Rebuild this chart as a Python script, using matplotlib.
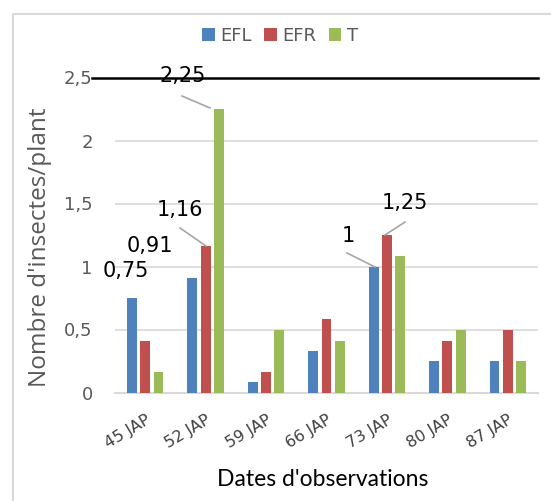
import matplotlib.pyplot as plt
import numpy as np
from matplotlib.patches import Rectangle

# Données
dates = ["45 JAP", "52 JAP", "59 JAP", "66 JAP", "73 JAP", "80 JAP", "87 JAP"]
efl = [0.75, 0.91, 0.08, 0.33, 1.00, 0.25, 0.25]
efr = [0.41, 1.16, 0.16, 0.58, 1.25, 0.41, 0.50]
t = [0.16, 2.25, 0.50, 0.41, 1.08, 0.50, 0.25]

plt.rcParams['font.family'] = ['DejaVu Sans']

W, H = 551, 501
fig = plt.figure(figsize=(W / 100, H / 100), dpi=100)
ax = fig.add_axes([115 / W, 1 - 392.5 / H, (538 - 115) / W, (392.5 - 77.5) / H])

x = np.arange(len(dates))
bw = 0.165
step = 0.22
ax.bar(x - step, efl, bw, color='#4F81BD', label='EFL', zorder=3)
ax.bar(x, efr, bw, color='#C0504D', label='EFR', zorder=3)
ax.bar(x + step, t, bw, color='#9BBB59', label='T', zorder=3)

ax.set_xlim(-0.5, len(dates) - 0.5)
ax.set_ylim(0, 2.5)
ax.set_yticks([0, 0.5, 1, 1.5, 2, 2.5])
ax.set_yticklabels(['0', '0,5', '1', '1,5', '2', '2,5'], fontsize=13, color='#595959')
ax.set_xticks(x)
ax.set_xticklabels(dates, rotation=31, ha='right', va='top', rotation_mode='anchor',
                   fontsize=11.5, color='#404040')
ax.tick_params(length=0)
ax.tick_params(axis='y', pad=16)
ax.tick_params(axis='x', pad=14)
ax.grid(axis='y', color='#d9d9d9', lw=1.2, zorder=0)
for s in ['top', 'right', 'left']:
    ax.spines[s].set_visible(False)
ax.spines['bottom'].set_color('#d9d9d9')
ax.spines['bottom'].set_linewidth(1.5)

# Ligne noire à 2,5
ax.plot([-0.055, 1.0], [1.0, 1.0], color='black', lw=1.8, transform=ax.transAxes,
        clip_on=False, zorder=4)

# Titres des axes
fig.text(40 / W, 1 - 247 / H, "Nombre d'insectes/plant", rotation=90, ha='center',
         va='center', fontsize=17.5, color='#595959', family='Open Sans')
fig.text(323 / W, 1 - 480 / H, "Dates d'observations", ha='center', va='center',
         fontsize=16.5, color='black', family='Lato')

# Étiquettes de données
def lab(txt, px, py):
    fig.text(px / W, 1 - py / H, txt, fontsize=15, ha='center', va='center')

def lead(x0, y0, x1, y1):
    fig.add_artist(plt.Line2D([x0 / W, x1 / W], [1 - y0 / H, 1 - y1 / H],
                              color='#a6a6a6', lw=1.2))

lab('0,75', 126, 271)
lab('0,91', 150, 246)
lab('1,16', 180, 210)
lead(180, 228, 206, 246)
lab('2,25', 183, 76)
lead(182, 96, 210, 108)
lab('1', 348, 236)
lead(347, 253, 375, 267)
lab('1,25', 405, 203)
lead(405, 222, 385, 235)

# Légende
fig.legend(loc='center', bbox_to_anchor=(280 / W, 1 - 36 / H), ncol=3, frameon=False,
           fontsize=13, handlelength=0.7, handleheight=0.7, handletextpad=0.3,
           columnspacing=0.7, labelcolor='#595959')

# Cadre extérieur
fig.add_artist(Rectangle((12.5 / W, -0.1), 1.2, 1 - 14 / H + 0.1, transform=fig.transFigure,
                         fill=False, edgecolor='#d9d9d9', lw=1.5))

fig.savefig('out.png', dpi=100)
